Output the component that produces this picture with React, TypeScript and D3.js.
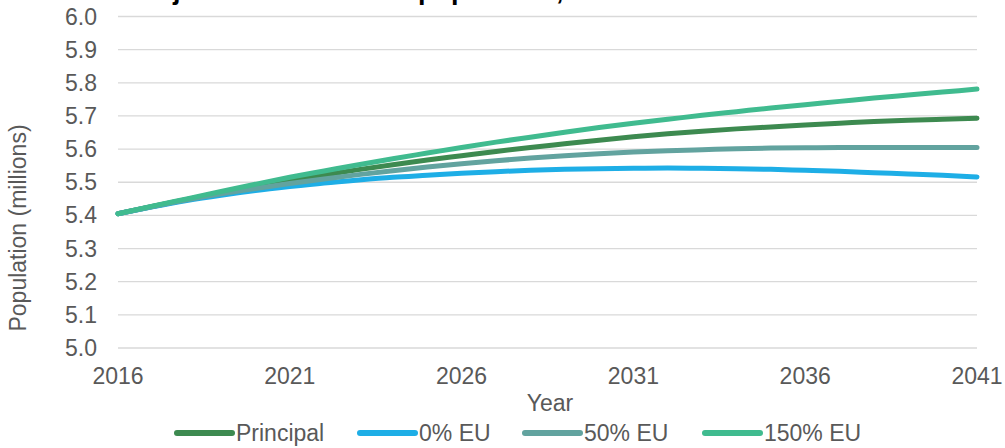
import React from "react";
import * as d3 from "d3";

const years = d3.range(2016, 2042);
const xTicks = [2016, 2021, 2026, 2031, 2036, 2041];
const yTicks = [5.0, 5.1, 5.2, 5.3, 5.4, 5.5, 5.6, 5.7, 5.8, 5.9, 6.0];

const principal = [5.405, 5.427, 5.448, 5.468, 5.487, 5.505, 5.522, 5.538, 5.553, 5.567, 5.58, 5.593, 5.605, 5.616, 5.627, 5.637, 5.646, 5.654, 5.661, 5.667, 5.673, 5.678, 5.683, 5.687, 5.69, 5.693];
const eu0 = [5.405, 5.426, 5.445, 5.461, 5.475, 5.487, 5.498, 5.507, 5.515, 5.521, 5.527, 5.532, 5.536, 5.539, 5.541, 5.542, 5.543, 5.542, 5.541, 5.539, 5.536, 5.533, 5.529, 5.525, 5.521, 5.516];
const eu50 = [5.405, 5.427, 5.447, 5.465, 5.481, 5.496, 5.51, 5.523, 5.535, 5.546, 5.556, 5.565, 5.573, 5.58, 5.586, 5.591, 5.595, 5.598, 5.601, 5.603, 5.604, 5.605, 5.605, 5.605, 5.605, 5.605];
const eu150 = [5.405, 5.428, 5.45, 5.472, 5.494, 5.515, 5.534, 5.553, 5.571, 5.588, 5.605, 5.621, 5.636, 5.651, 5.665, 5.678, 5.69, 5.702, 5.713, 5.724, 5.734, 5.744, 5.754, 5.763, 5.772, 5.781];

const seriesNames = ["Principal", "0% EU", "50% EU", "150% EU"];
const seriesValues = [principal, eu0, eu50, eu150];
const seriesColors = ["#3d8a50", "#1eaee6", "#62a39f", "#40bb8f"];

const W = 1005;
const H = 448;
const font = "'Liberation Sans', Arial, sans-serif";
const textColor = "#595959";
const fs = 23;

export default function App() {
  const x = d3.scaleLinear().domain([2016, 2041]).range([118, 977]);
  const y = d3.scaleLinear().domain([5.0, 6.0]).range([348, 16.5]);
  const line = d3
    .line<number>()
    .x((_, i) => x(years[i]))
    .y((d) => y(d))
    .curve(d3.curveMonotoneX);

  const legendX = [177, 360, 525, 705];
  const legendTextW = [93, 75, 88, 100];

  return (
    <svg
      width={W}
      height={H}
      style={{ position: "absolute", left: 0, top: 0, background: "#fff" }}
      fontFamily={font}
    >
      <text x={128} y={-1} fontSize={27} fontWeight="bold" fill="#000">
        Projected
      </text>
      <text x={418} y={-1} fontSize={27} fontWeight="bold" fill="#000">
        population, 2016-2041
      </text>
      {yTicks.map((t) => (
        <g key={t}>
          <line x1={118} x2={977} y1={y(t)} y2={y(t)} stroke="#d9d9d9" strokeWidth={1.3} />
          <text x={97} y={y(t)} dy="0.35em" textAnchor="end" fontSize={fs} fill={textColor}>
            {t.toFixed(1)}
          </text>
        </g>
      ))}
      {xTicks.map((t) => (
        <text key={t} x={x(t)} y={384} textAnchor="middle" fontSize={fs} fill={textColor}>
          {t}
        </text>
      ))}
      <text x={550} y={411} textAnchor="middle" fontSize={fs} fill={textColor}>
        Year
      </text>
      <text
        transform={`translate(26,228) rotate(-90)`}
        textAnchor="middle"
        fontSize={fs}
        fill={textColor}
      >
        Population (millions)
      </text>
      {seriesValues.map((vals, i) => (
        <path
          key={seriesNames[i]}
          d={line(vals) || ""}
          fill="none"
          stroke={seriesColors[i]}
          strokeWidth={5}
          strokeLinecap="round"
          strokeLinejoin="round"
        />
      ))}
      {seriesNames.map((n, i) => (
        <g key={n}>
          <line
            x1={legendX[i]}
            x2={legendX[i] + 55}
            y1={433}
            y2={433}
            stroke={seriesColors[i]}
            strokeWidth={6}
            strokeLinecap="round"
          />
          <text x={legendX[i] + 59} y={441} fontSize={fs} fill={textColor}>
            {n}
          </text>
        </g>
      ))}
    </svg>
  );
}
